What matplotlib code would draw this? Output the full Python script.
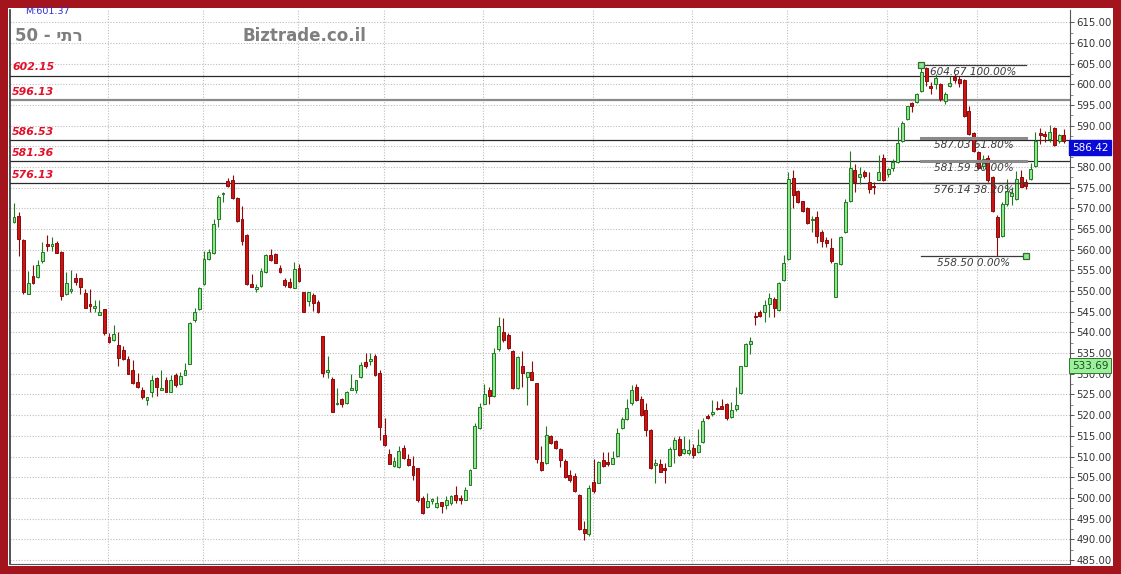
import matplotlib
matplotlib.use("Agg")
import matplotlib.pyplot as plt
from matplotlib.patches import Rectangle

# OHLC per trading day
opens = [566.8, 568.1, 562.3, 549.4, 553.6, 553.3, 557.2, 561.4, 560.9, 561.7,
         559.5, 549.3, 550.0, 553.1, 553.1, 549.6, 547.0, 546.0, 544.3, 545.7,
         538.9, 538.1, 536.9, 535.7, 533.7, 530.9, 528.1, 526.1, 523.6, 525.6,
         529.1, 526.0, 528.6, 525.6, 529.7, 527.5, 529.8, 532.3, 543.1, 545.7,
         551.7, 557.7, 559.2, 567.5, 573.4, 576.6, 576.8, 572.6, 567.5, 563.5,
         551.7, 550.5, 551.3, 554.7, 558.7, 558.9, 555.5, 552.7, 552.1, 550.8,
         555.7, 549.7, 547.7, 549.1, 547.3, 539.1, 530.5, 528.7, 522.7, 524.0,
         523.0, 526.2, 526.2, 529.2, 532.8, 533.0, 534.2, 530.1, 515.3, 510.5,
         507.7, 507.5, 512.1, 509.4, 507.8, 507.2, 500.0, 497.9, 499.3, 497.9,
         498.9, 498.2, 498.7, 500.8, 499.8, 499.6, 503.2, 507.2, 516.9, 522.7,
         526.0, 524.7, 535.9, 540.2, 539.4, 535.6, 526.5, 531.9, 529.2, 530.5,
         527.9, 508.6, 508.5, 515.0, 513.7, 511.8, 508.9, 505.6, 505.2, 500.8,
         492.4, 491.2, 503.8, 503.6, 509.1, 508.6, 508.3, 510.1, 516.9, 519.0,
         522.9, 526.8, 523.9, 521.3, 516.4, 508.0, 508.3, 507.3, 507.7, 511.9,
         514.2, 510.9, 510.8, 512.1, 511.1, 513.4, 519.8, 520.2, 521.6, 522.1,
         522.6, 519.6, 521.4, 525.4, 532.0, 537.3, 544.1, 545.0, 544.9, 547.0,
         548.1, 545.4, 552.7, 557.7, 577.4, 574.2, 571.8, 570.0, 567.2, 567.9,
         564.4, 562.3, 560.4, 548.7, 556.5, 564.2, 571.8, 579.4, 577.6, 578.9,
         576.4, 575.4, 577.0, 582.2, 578.3, 579.7, 581.3, 586.3, 591.6, 595.4,
         595.7, 598.4, 604.0, 599.7, 600.0, 600.0, 596.1, 599.7, 601.8, 601.2,
         601.0, 593.6, 588.3, 583.7, 580.2, 582.1, 577.7, 567.9, 563.4, 571.0,
         573.1, 572.3, 577.7, 576.3, 577.1, 580.3, 588.2, 587.9, 586.7, 589.5,
         586.3, 587.7]
highs = [571.4, 569.2, 562.7, 554.9, 556.3, 557.5, 561.9, 563.5, 563.1, 562.2,
         559.8, 554.7, 555.0, 554.4, 553.1, 550.6, 550.4, 547.8, 547.8, 545.7,
         539.9, 541.8, 540.0, 536.7, 534.4, 533.3, 530.2, 526.8, 524.3, 529.7,
         529.3, 530.9, 529.3, 529.7, 530.2, 530.5, 532.5, 542.6, 545.8, 551.1,
         559.7, 560.1, 567.5, 573.2, 574.0, 577.4, 578.0, 572.8, 570.7, 563.8,
         554.1, 551.7, 555.7, 558.9, 560.1, 559.2, 556.4, 553.1, 553.1, 557.1,
         556.5, 549.7, 549.8, 549.5, 547.9, 539.1, 534.3, 529.2, 526.6, 524.2,
         525.8, 529.9, 528.6, 532.8, 535.1, 535.0, 534.8, 530.9, 519.3, 511.7,
         510.0, 512.6, 512.9, 510.7, 510.1, 507.2, 500.4, 501.2, 500.0, 500.4,
         499.0, 500.4, 500.7, 502.8, 500.8, 502.7, 507.0, 518.2, 522.9, 527.6,
         526.8, 536.2, 543.8, 543.6, 539.8, 535.8, 534.3, 535.4, 530.5, 533.0,
         527.9, 512.5, 517.3, 515.3, 514.1, 512.1, 509.3, 506.7, 505.9, 501.0,
         494.4, 503.2, 509.4, 508.9, 511.0, 511.0, 511.3, 516.9, 519.5, 523.9,
         527.3, 527.6, 524.6, 522.9, 516.7, 509.3, 509.3, 508.4, 512.4, 514.8,
         515.0, 515.0, 514.2, 513.0, 516.7, 519.4, 520.4, 523.6, 523.5, 523.8,
         522.9, 523.2, 526.7, 532.0, 537.4, 538.9, 545.0, 545.4, 547.8, 549.5,
         548.5, 552.1, 558.8, 578.9, 579.4, 574.4, 571.9, 570.3, 568.2, 569.5,
         564.7, 563.1, 562.8, 556.9, 563.4, 572.2, 583.8, 580.8, 580.0, 579.4,
         578.9, 576.4, 583.0, 583.2, 579.9, 581.9, 589.8, 591.1, 594.9, 595.7,
         598.0, 604.67, 604.2, 600.5, 602.4, 600.4, 598.1, 602.0, 602.6, 602.0,
         601.4, 594.8, 588.5, 583.9, 582.9, 582.9, 577.9, 568.3, 571.5, 577.1,
         575.1, 579.1, 579.3, 577.1, 581.1, 588.5, 589.5, 588.7, 590.3, 589.8,
         587.9, 589.1]
lows = [566.5, 558.5, 549.3, 549.3, 551.7, 553.1, 556.9, 559.6, 559.6, 559.3,
        547.8, 549.1, 549.5, 551.6, 549.4, 545.9, 545.0, 545.0, 544.3, 539.4,
        537.5, 537.9, 531.9, 533.3, 529.9, 527.5, 526.5, 523.8, 522.5, 524.4,
        524.6, 526.0, 525.5, 525.5, 526.9, 527.3, 529.8, 532.3, 542.5, 545.5,
        551.5, 557.6, 559.0, 565.4, 571.5, 575.2, 572.4, 566.8, 561.1, 551.5,
        550.9, 549.9, 551.1, 554.5, 557.3, 556.8, 554.4, 551.1, 550.7, 550.7,
        552.3, 544.9, 546.5, 545.2, 544.8, 529.2, 529.0, 520.8, 522.4, 522.0,
        522.8, 526.0, 525.4, 529.0, 531.4, 532.2, 529.5, 514.1, 512.5, 508.1,
        507.5, 507.3, 509.4, 507.8, 504.4, 499.0, 496.2, 497.6, 498.4, 497.6,
        496.4, 497.2, 498.2, 498.7, 498.4, 499.5, 503.1, 507.1, 516.6, 522.6,
        522.7, 524.5, 535.6, 537.8, 535.9, 526.3, 526.3, 526.8, 522.5, 528.4,
        508.5, 506.4, 508.3, 513.1, 511.8, 507.5, 504.9, 503.8, 501.4, 492.2,
        489.8, 490.8, 501.2, 503.5, 507.5, 507.7, 508.1, 510.0, 516.6, 518.9,
        522.5, 523.5, 519.7, 514.9, 506.9, 503.6, 506.2, 503.7, 507.6, 508.4,
        510.1, 510.5, 510.3, 509.7, 510.9, 513.2, 519.0, 519.9, 521.2, 521.5,
        518.9, 519.4, 521.0, 525.2, 531.8, 534.7, 541.9, 543.7, 542.5, 543.8,
        543.8, 545.3, 552.5, 557.5, 570.2, 571.4, 569.2, 566.3, 564.2, 561.7,
        560.6, 560.6, 556.7, 548.6, 556.4, 564.0, 571.6, 574.0, 575.8, 577.4,
        573.8, 573.6, 576.8, 576.6, 577.7, 579.1, 581.1, 586.1, 591.4, 593.3,
        595.6, 598.1, 599.6, 597.6, 598.8, 596.0, 595.2, 599.4, 600.4, 599.4,
        592.2, 587.7, 583.7, 579.5, 579.5, 576.3, 569.1, 558.5, 563.0, 570.6,
        570.8, 572.1, 575.1, 574.7, 576.9, 580.1, 585.5, 586.1, 586.1, 585.1,
        585.8, 585.8]
closes = [568.0, 562.5, 549.8, 552.0, 551.9, 556.4, 559.4, 561.0, 561.4, 559.3,
          548.8, 552.0, 550.5, 552.3, 551.0, 546.0, 546.5, 546.5, 545.0, 539.9,
          537.7, 539.6, 533.9, 533.7, 529.9, 527.8, 526.9, 524.3, 524.3, 528.6,
          526.7, 526.5, 525.6, 528.5, 527.3, 529.4, 531.0, 542.2, 544.9, 550.7,
          557.7, 559.5, 566.2, 572.8, 573.8, 575.4, 572.6, 567.0, 562.1, 551.7,
          550.9, 551.1, 554.8, 558.7, 557.6, 556.9, 554.7, 551.5, 551.0, 555.3,
          552.5, 544.9, 549.7, 547.1, 544.9, 530.3, 531.0, 520.8, 523.0, 522.8,
          525.6, 526.4, 528.4, 532.2, 532.0, 533.5, 529.7, 517.1, 512.8, 508.3,
          508.9, 511.3, 509.7, 507.9, 505.5, 499.6, 496.4, 499.2, 499.6, 498.8,
          498.0, 499.4, 500.4, 499.6, 499.5, 501.9, 506.7, 517.4, 521.9, 525.2,
          524.7, 535.1, 541.5, 538.2, 536.2, 526.5, 534.0, 530.3, 530.5, 528.5,
          509.3, 506.8, 515.3, 513.3, 512.1, 509.1, 505.1, 504.4, 501.6, 492.5,
          491.6, 502.4, 501.6, 508.6, 507.6, 508.3, 509.7, 515.7, 519.0, 521.7,
          526.1, 523.7, 520.1, 516.5, 507.1, 508.3, 506.3, 506.8, 511.7, 514.0,
          510.3, 511.7, 511.6, 510.3, 512.9, 518.6, 519.4, 520.7, 521.4, 521.6,
          519.2, 521.2, 522.4, 531.8, 537.3, 537.9, 543.7, 544.1, 546.7, 548.3,
          545.9, 551.9, 556.9, 577.2, 573.2, 571.6, 569.4, 566.6, 567.4, 563.4,
          562.1, 561.7, 557.3, 556.7, 563.1, 571.6, 579.7, 576.4, 578.4, 577.8,
          574.8, 575.2, 578.9, 576.8, 579.5, 581.3, 585.8, 590.7, 594.8, 594.8,
          597.6, 603.0, 600.8, 599.2, 601.6, 596.4, 597.6, 600.4, 601.0, 600.4,
          592.4, 588.0, 583.9, 579.7, 581.9, 577.0, 569.5, 563.0, 571.0, 574.3,
          573.7, 577.1, 575.3, 575.5, 579.6, 586.3, 587.7, 587.5, 588.5, 585.3,
          587.7, 586.42]

# month boundaries (candle index) for the vertical grid
month_starts = [20, 40, 60, 78, 99, 122, 143, 163, 184, 203]

# horizontal support / resistance levels
levels = [602.15, 596.13, 586.53, 581.36, 576.13]

# fibonacci retracement
fib_levels = [604.67, 587.03, 581.59, 576.14, 558.50]
fib_pcts = ['100.00%', '61.80%', '50.00%', '38.20%', '0.00%']
fib_from, fib_to = 191, 213

last_price = 586.42
ma_value = 533.69

W, H = 1121, 574
fig = plt.figure(figsize=(W / 100, H / 100), dpi=100, facecolor='#a3141c')
fig.patches.append(Rectangle((8 / W, 8 / H), 1105 / W, 558 / H,
                             transform=fig.transFigure, facecolor='white',
                             edgecolor='none', zorder=-5))
ax = fig.add_axes([10 / W, 10 / H, 1060 / W, 554 / H])
ax.set_facecolor('white')
ax.set_zorder(2)

n = len(closes)
xs = list(range(n))

# grid
for y in range(485, 620, 5):
    ax.axhline(y, color='#bdbdbd', lw=0.8, ls=(0, (1, 1.5)), zorder=1)
for m in month_starts:
    ax.axvline(m - 0.2, color='#bdbdbd', lw=0.8, ls=(0, (1, 1.5)), zorder=1)

# candles
up = [c >= o for o, c in zip(opens, closes)]
wick_col = ['#217a21' if u else '#8c0a0a' for u in up]
body_fc = ['#8ee68e' if u else '#cc1414' for u in up]
body_ec = ['#217a21' if u else '#8c0a0a' for u in up]
ax.vlines(xs, lows, highs, colors=wick_col, lw=0.8, zorder=3)
bottoms = [min(o, c) for o, c in zip(opens, closes)]
heights = [max(abs(c - o), 0.35) for o, c in zip(opens, closes)]
ax.bar(xs, heights, bottom=bottoms, width=0.62, color=body_fc,
       edgecolor=body_ec, linewidth=0.7, zorder=4)

# support/resistance lines with labels
for lv in levels:
    col = '#8a8a8a' if lv == 596.13 else '#2a2a2a'
    lw = 1.6 if lv == 596.13 else 0.9
    ax.axhline(lv, color=col, lw=lw, zorder=2)
    ax.annotate(f'{lv:.2f}', xy=(0.002, lv), xycoords=('axes fraction', 'data'),
                xytext=(0, 2.5), textcoords='offset points', ha='left', va='bottom',
                fontsize=7.8, fontweight='bold', fontstyle='italic', color='#e3102a',
                zorder=6)

# fibonacci
for lv, pct in zip(fib_levels, fib_pcts):
    thick = pct in ('61.80%', '50.00%')
    ax.plot([fib_from, fib_to], [lv, lv], color='#8a8a8a' if thick else '#3a3a3a',
            lw=2.2 if thick else 0.9, zorder=5)
    ax.annotate(f'{lv:.2f} {pct}', xy=((fib_from + fib_to) / 2, lv),
                xytext=(0, -1.5), textcoords='offset points', ha='center', va='top',
                fontsize=7.6, fontstyle='italic', color='#3c3c3c', zorder=6)
ax.plot([fib_from, fib_to], [fib_levels[0], fib_levels[-1]], ls='none', marker='s',
        ms=5, mfc='#8ee68e', mec='#2f6e2f', mew=0.9, zorder=7)

ax.set_xlim(-0.84, 222.3)
ax.set_ylim(484.0, 618.0)
ax.set_xticks([])
ax.yaxis.tick_right()
ax.set_yticks(range(485, 620, 5))
ax.set_yticks([y + 2.5 for y in range(485, 615, 5)], minor=True)
ax.set_yticklabels([f'{y:.2f}' for y in range(485, 620, 5)])
ax.tick_params(axis='y', which='major', length=3, width=0.7, pad=1.5,
               labelsize=7.3, labelcolor='#333333', color='#555555')
ax.tick_params(axis='y', which='minor', length=1.8, width=0.6, color='#777777')
ax.spines['top'].set_visible(False)
ax.spines['left'].set_color('#333333')
ax.spines['left'].set_linewidth(1.2)
ax.spines['right'].set_color('#555555')
ax.spines['bottom'].set_color('#555555')

# right side price boxes (drawn over the tick labels, as in the source)
ax.annotate(f'{last_price:.2f}', xy=(1.0, last_price), xycoords=('axes fraction', 'data'),
            xytext=(1.5, -1.5), textcoords='offset points', ha='left', va='top',
            fontsize=7.5, color='white', annotation_clip=False, zorder=10,
            bbox=dict(boxstyle='square,pad=0.25', fc='#0a0ad8', ec='#0a0ad8'))
ax.annotate(f'{ma_value:.2f}', xy=(1.0, ma_value), xycoords=('axes fraction', 'data'),
            xytext=(1.5, -1.5), textcoords='offset points', ha='left', va='top',
            fontsize=7.5, color='#1d4d1d', annotation_clip=False, zorder=10,
            bbox=dict(boxstyle='square,pad=0.25', fc='#9cf09c', ec='#2f7a2f', lw=0.7))

# header texts
fig.text(25 / W, 1 - 12 / H, 'M:601.37', fontsize=6.8, color='#2b2bd0', va='center',
         zorder=5)
fig.text(15 / W, 1 - 36 / H, '50 - יתר', fontsize=12, fontweight='bold',
         color='#7f7f7f', va='center', zorder=5)
fig.text(243 / W, 1 - 36 / H, 'Biztrade.co.il', fontsize=12, fontweight='bold',
         color='#7f7f7f', va='center', zorder=5)

fig.savefig('out.png', dpi=100, facecolor=fig.get_facecolor())
